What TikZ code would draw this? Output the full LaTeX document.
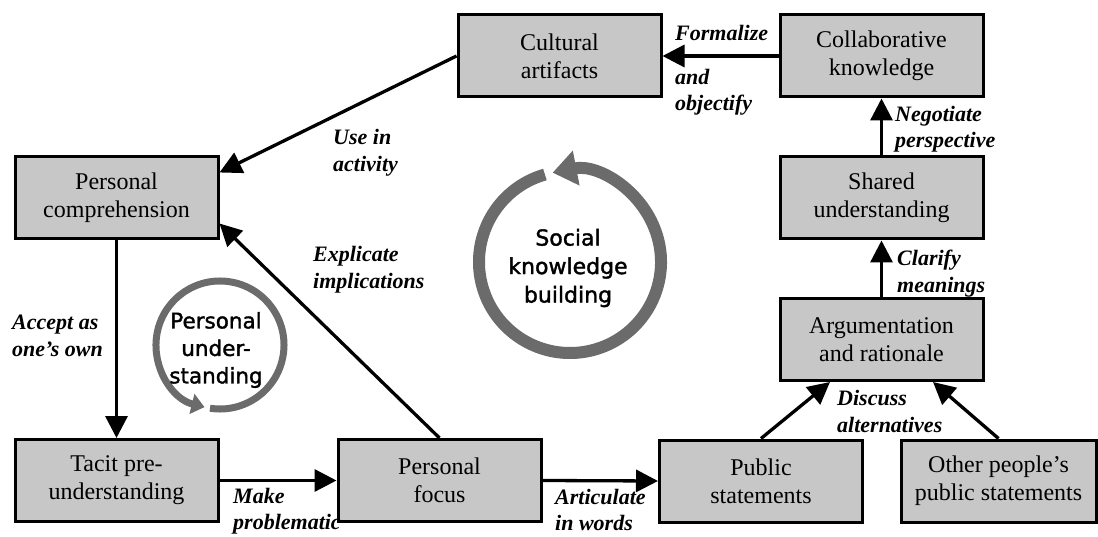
\documentclass[tikz,border=0pt]{standalone}
\usepackage{fontspec}
\setmainfont{Liberation Serif}
\newfontfamily\circfont[FakeBold=1.6]{DejaVu Sans}
\usetikzlibrary{arrows.meta,calc}
\definecolor{boxgray}{gray}{0.78}
\definecolor{ringgray}{gray}{0.42}
\begin{document}
\begin{tikzpicture}[x=1pt,y=-1pt,
  box/.style={draw=black, line width=3pt, fill=boxgray, minimum width=203pt, minimum height=82pt,
    inner sep=0pt, align=center, font=\fontsize{24}{28}\selectfont},
  lbl/.style={anchor=west, align=left, inner sep=0pt, font=\fontsize{22}{26.5}\selectfont\bfseries\itshape},
  conn/.style={line width=3.3pt, -{Triangle[length=22pt,width=22pt]}},
  ring/.style={draw=ringgray},
  ringtext/.style={align=center, inner sep=0pt, font=\circfont\fontsize{22}{28.5}\selectfont}]
\useasboundingbox (0,0) rectangle (1098,537);

% boxes
\node[box] (cult) at (559.5,56) {Cultural\\artifacts};
\node[box] (collab) at (881.5,56) {Collaborative\\knowledge};
\node[box] (pc) at (116.5,198) {Personal\\comprehension};
\node[box] (shared) at (881.5,198) {Shared\\understanding};
\node[box] (arg) at (881.5,339.5) {Argumentation\\and rationale};
\node[box] (tacit) at (116.5,480.5) {Tacit pre-\\understanding};
\node[box] (pf) at (439.5,480.5) {Personal\\focus};
\node[box] (pub) at (761,481) {Public\\statements};
\node[box, minimum width=195pt] (other) at (998.5,481) {Other people’s\\public statements};

% connectors
\draw[conn] (collab.west) -- (cult.east);
\draw[conn] (cult.west) -- ($(pc.north east)!0.2!(pc.south east)$);
\draw[conn] (pf.north) -- ($(pc.north east)!0.8!(pc.south east)$);
\draw[conn] (pc.south) -- (tacit.north);
\draw[conn] (tacit.east) -- (pf.west);
\draw[conn] (pf.east) -- (pub.west);
\draw[conn] (pub.north) -- ($(arg.south west)!0.25!(arg.south east)$);
\draw[conn] (other.north) -- ($(arg.south west)!0.75!(arg.south east)$);
\draw[conn] (arg.north) -- (shared.south);
\draw[conn] (shared.north) -- (collab.south);

% labels
\node[lbl] (l1) at (675,33) {Formalize};
\node[lbl] (l2) at (675,92) {and\\objectify};
\node[lbl] (l3) at (333,152.5) {Use in\\activity};
\node[lbl] (l4) at (313,269.5) {Explicate\\implications};
\node[lbl] (l5) at (12,336) {Accept as\\one’s own};
\node[lbl] (l6) at (233,511) {Make\\problematic};
\node[lbl] (l7) at (555,510) {Articulate\\in words};
\node[lbl] (l8) at (837,411.5) {Discuss\\alternatives};
\node[lbl] (l9) at (897,273.5) {Clarify\\meanings};
\node[lbl] (l10) at (895,129) {Negotiate\\perspective};

% cycles
\coordinate (sc) at (570,262);
\draw[ring, line width=12pt, -{Triangle[length=24pt,width=34pt]}]
  ($(sc)+(-106:91)$) arc[start angle=-106, end angle=-461, radius=91];
\node[ringtext] (sk) at (568,268) {Social\\knowledge\\building};

\coordinate (pcc) at (220,345);
\draw[ring, line width=7pt, -{Triangle[length=13pt,width=20pt]}]
  ($(pcc)+(-261:64)$) arc[start angle=-261, end angle=-616, radius=64];
\node[ringtext, font=\circfont\fontsize{21.5}{27.5}\selectfont] (pu) at (216,350) {Personal\\under-\\standing};
\end{tikzpicture}
\end{document}
